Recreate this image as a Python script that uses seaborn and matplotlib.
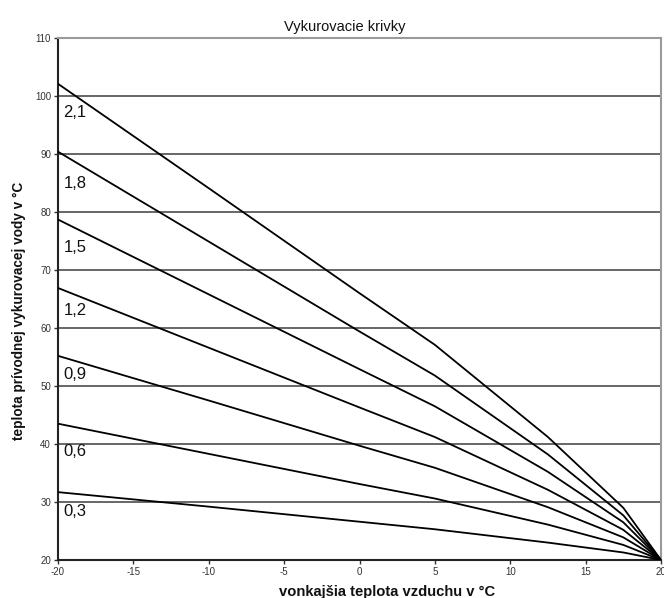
import matplotlib
matplotlib.use("Agg")
import matplotlib.pyplot as plt
import numpy as np
import pandas as pd
import seaborn as sns

# outdoor temperature (x) at which the curves were read
outdoor_temp = [-20, -10, 0, 5, 12.5, 17.5, 20]

curve_labels = ["2,1", "1,8", "1,5", "1,2", "0,9", "0,6", "0,3"]
curve_2_1 = [102.1, 84.1, 66.0, 57.1, 41.2, 29.0, 20.0]
curve_1_8 = [90.4, 74.9, 59.4, 51.8, 38.2, 27.7, 20.0]
curve_1_5 = [78.7, 65.8, 52.9, 46.5, 35.2, 26.5, 20.0]
curve_1_2 = [66.9, 56.6, 46.3, 41.2, 32.1, 25.2, 20.0]
curve_0_9 = [55.2, 47.5, 39.7, 35.9, 29.1, 23.9, 20.0]
curve_0_6 = [43.5, 38.3, 33.1, 30.6, 26.1, 22.6, 20.0]
curve_0_3 = [31.7, 29.2, 26.6, 25.3, 23.0, 21.3, 20.0]
curves = [curve_2_1, curve_1_8, curve_1_5, curve_1_2, curve_0_9, curve_0_6, curve_0_3]

# vertical position of each curve's name label (data units)
label_y = [97.1, 85.0, 73.8, 63.1, 51.9, 38.7, 28.3]

x_ticks = [-20, -15, -10, -5, 0, 5, 10, 15, 20]
y_ticks = [20, 30, 40, 50, 60, 70, 80, 90, 100, 110]

title = "Vykurovacie krivky"
x_label = "vonkajšia teplota vzduchu v °C"
y_label = "teplota prívodnej vykurovacej vody v °C"

rows = []
for lab, vals in zip(curve_labels, curves):
    for x, y in zip(outdoor_temp, vals):
        rows.append({"curve": lab, "x": x, "y": y})
df = pd.DataFrame(rows)

sns.set_theme(style="white")
plt.rcParams["font.family"] = ["Liberation Sans", "DejaVu Sans"]

fig = plt.figure(figsize=(6.64, 5.98), dpi=100)
ax = fig.add_axes([58 / 664, 38 / 598, 603 / 664, 522 / 598])

sns.lineplot(data=df, x="x", y="y", hue="curve", palette={l: "black" for l in curve_labels},
             legend=False, ax=ax, linewidth=1.3, sort=False, zorder=3)

ax.set_xlim(-20, 20)
ax.set_ylim(20, 110)
ax.set_xticks(x_ticks)
ax.set_yticks(y_ticks)
ax.set_xticklabels([str(t) for t in x_ticks])
ax.set_yticklabels([str(t) for t in y_ticks])
ax.set_xlabel("")
ax.set_ylabel("")
ax.yaxis.grid(True, color="#4d4d4d", linewidth=1.2)
ax.xaxis.grid(False)
ax.set_axisbelow(True)

for s in ["left", "bottom"]:
    ax.spines[s].set_color("#222222")
    ax.spines[s].set_linewidth(1.5)
for s in ["top", "right"]:
    ax.spines[s].set_color("#9a9a9a")
    ax.spines[s].set_linewidth(1.5)

ax.tick_params(axis="both", which="major", direction="out", length=3, width=1,
               color="#333333", labelsize=7, labelcolor="#333333", pad=2,
               left=True, bottom=True)

for lab, ly in zip(curve_labels, label_y):
    ax.text(-19.65, ly, lab, fontsize=12, ha="left", va="center", color="#111111")

fig.text(345 / 664, 1 - 31 / 598, title, ha="center", va="baseline", fontsize=10.5,
         color="#111111")
fig.text(387 / 664, 1 - 592 / 598, x_label, ha="center", va="center", fontsize=10.6,
         fontweight="bold", color="#111111")
fig.text(19 / 664, 1 - 311 / 598, y_label, ha="center", va="center", fontsize=9.8,
         fontweight="bold", rotation=90, color="#111111")

fig.savefig("out.png", dpi=100)
